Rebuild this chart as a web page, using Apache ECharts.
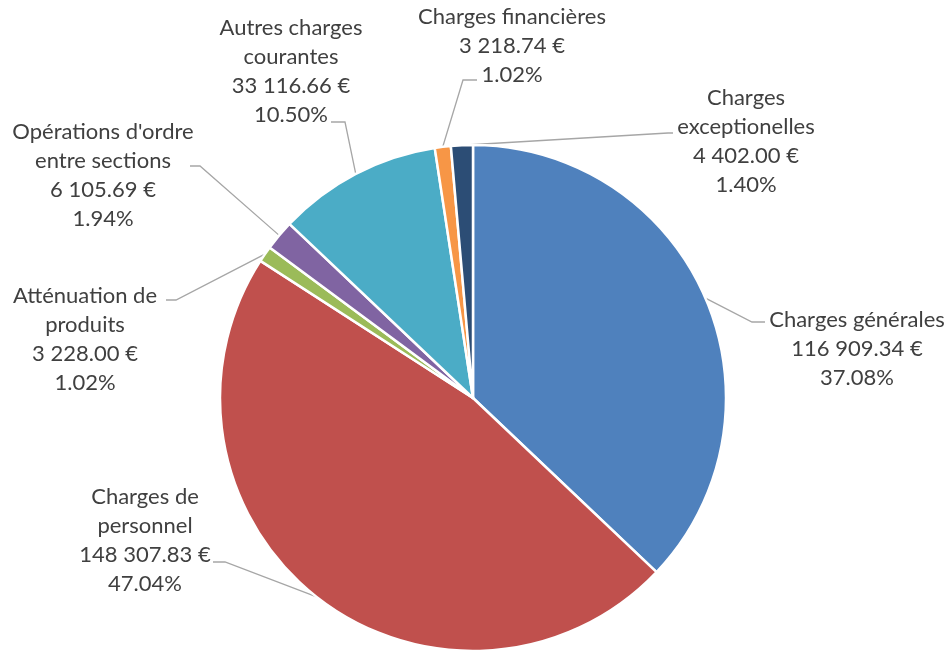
<!DOCTYPE html>
<html>
<head>
<meta charset="utf-8">
<script src="https://cdn.jsdelivr.net/npm/echarts@6/dist/echarts.min.js"></script>
<style>
  html, body { margin: 0; padding: 0; background: #fff; }
  #chart { width: 950px; height: 653px; }
</style>
</head>
<body>
<div id="chart"></div>
<script>
// categories (line breaks as in the original labels)
const names = [
  'Charges générales',
  'Charges de\npersonnel',
  'Atténuation de\nproduits',
  "Opérations d'ordre\nentre sections",
  'Autres charges\ncourantes',
  'Charges financières',
  'Charges\nexceptionelles'
]
const amounts = [116909.34, 148307.83, 3228.00, 6105.69, 33116.66, 3218.74, 4402.00]
const colors = ['#4F81BD', '#C0504D', '#9BBB59', '#8064A2', '#4BACC6', '#F79646', '#2C4D75']

// label block centres and leader line elbow / end points
const labelPos = [[857, 349], [145, 540], [85, 339], [103, 175], [291, 71], [512, 46], [746, 141]]
const leaders = [
  [[752, 322], [765, 322]],
  [[225, 562], [213, 562]],
  [[176, 300], [166, 300]],
  [[200, 166], [190, 166]],
  [[345, 122], [331, 122]],
  [[463, 80], [477, 80]],
  [[668, 133], [673, 133]]
]

const total = amounts.reduce((a, b) => a + b, 0)

function money(v) {
  const parts = v.toFixed(2).split('.')
  return parts[0].replace(/\B(?=(\d{3})+(?!\d))/g, ' ') + '.' + parts[1] + ' €'
}

const chart = echarts.init(document.getElementById('chart'))
chart.setOption({
  animation: false,
  series: [
    {
      type: 'pie',
      center: [473, 398],
      radius: 253,
      startAngle: 90,
      clockwise: true,
      avoidLabelOverlap: false,
      data: names.map((n, i) => ({
        name: n,
        value: amounts[i],
        itemStyle: { color: colors[i] }
      })),
      itemStyle: {
        borderColor: '#fff',
        borderWidth: 2.5
      },
      label: {
        show: true,
        position: 'outside',
        formatter: (p) => p.name + '\n' + money(p.value) + '\n' + (p.value / total * 100).toFixed(2) + '%',
        color: '#404040',
        fontFamily: 'Lato',
        fontSize: 22,
        lineHeight: 29,
        align: 'center'
      },
      labelLine: {
        show: true,
        lineStyle: { color: '#A6A6A6', width: 1.3 }
      },
      labelLayout: (params) => {
        const i = params.dataIndex
        const pts = params.labelLinePoints
        return {
          x: labelPos[i][0],
          y: labelPos[i][1],
          align: 'center',
          verticalAlign: 'middle',
          labelLinePoints: [pts[0], leaders[i][0], leaders[i][1]]
        }
      },
      emphasis: { disabled: true }
    }
  ]
})
</script>
</body>
</html>
